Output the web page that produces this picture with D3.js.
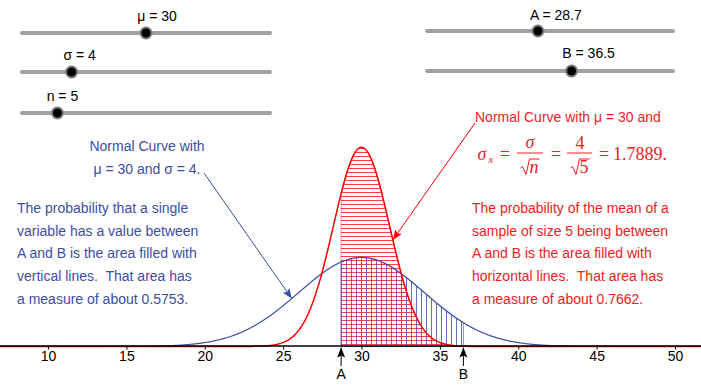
<!DOCTYPE html>
<html>
<head>
<meta charset="utf-8">
<script src="https://d3js.org/d3.v7.min.js"></script>
<style>
  body { margin: 0; background: #fff; }
  text { font-family: "Liberation Sans", Arial, sans-serif; white-space: pre; }
</style>
</head>
<body>
<script>
// parameters (slider names, values, ranges)
var sliderNames = ["μ", "σ", "n", "A", "B"];
var sliderValues = [30, 4, 5, 28.7, 36.5];
var sliderMin = [0, 0, 0, 3, 3];
var sliderMax = [60, 20, 35, 60, 60];

var tickValues = [10, 15, 20, 25, 30, 35, 40, 45, 50];

var blueNote = ["Normal Curve with", "μ = 30 and σ = 4."];
var blueText = ["The probability that a single", "variable has a value between",
                "A and B is the area filled with", "vertical lines.  That area has",
                "a measure of about 0.5753."];
var redNote = "Normal Curve with μ = 30 and";
var redText = ["The probability of the mean of a", "sample of size 5 being between",
               "A and B is the area filled with", "horizontal lines.  That area has",
               "a measure of about 0.7662."];

var mu = sliderValues[0], sigma = sliderValues[1], n = sliderValues[2];
var A = sliderValues[3], B = sliderValues[4];
var sigmaMean = sigma / Math.sqrt(n);

var width = 701, height = 390;
var blue = "#3a4ea8", red = "#ff0000";
var blueTxt = "#3a4ea6", redTxt = "#ee1c25";
var fs = 14;

var svg = d3.select("body").append("svg")
    .attr("width", width).attr("height", height);

var x = d3.scaleLinear().domain([10, 50]).range([48, 675]);
var y = d3.scaleLinear().domain([0, 0.1]).range([346.5, 257.2]);

function pdf(m, s) {
    return function(v) { return Math.exp(-0.5 * Math.pow((v - m) / s, 2)) / (s * Math.sqrt(2 * Math.PI)); };
}
var fBlue = pdf(mu, sigma), fRed = pdf(mu, sigmaMean);

var defs = svg.append("defs");
defs.append("pattern").attr("id", "hh").attr("patternUnits", "userSpaceOnUse")
    .attr("width", 10).attr("height", 4)
  .append("line").attr("x1", 0).attr("x2", 10).attr("y1", 0.5).attr("y2", 0.5)
    .attr("stroke", red).attr("stroke-width", 1).attr("opacity", 0.75);
defs.append("pattern").attr("id", "vh").attr("patternUnits", "userSpaceOnUse")
    .attr("width", 5).attr("height", 10).attr("x", 1)
  .append("line").attr("x1", 0.5).attr("x2", 0.5).attr("y1", 0).attr("y2", 10)
    .attr("stroke", blue).attr("stroke-width", 1).attr("opacity", 0.8);

function marker(id, col) {
    defs.append("marker").attr("id", id).attr("viewBox", "0 0 10 10")
        .attr("refX", 10).attr("refY", 5).attr("markerWidth", 10).attr("markerHeight", 10)
        .attr("markerUnits", "userSpaceOnUse").attr("orient", "auto")
      .append("path").attr("d", "M0,1 L10,5 L0,9 L2,5 Z").attr("fill", col);
}
marker("ab", blue); marker("ar", red); marker("ak", "#000");

// integral regions
var xsAB = d3.range(A, B, 0.02).concat([B]);
var area = function(f) {
    return d3.area().x(function(d) { return x(d); }).y0(y(0)).y1(function(d) { return y(f(d)); });
};
svg.append("path").datum(xsAB).attr("d", area(fRed))
    .attr("fill", "url(#hh)").attr("stroke", red).attr("stroke-opacity", 0.45);
svg.append("path").datum(xsAB).attr("d", area(fBlue))
    .attr("fill", "url(#vh)").attr("stroke", blue).attr("stroke-opacity", 0.6);

// curves
var xsAll = d3.range(x.invert(0), x.invert(width), 0.05);
var line = function(f) {
    return d3.line().x(function(d) { return x(d); }).y(function(d) { return y(f(d)); });
};
svg.append("path").datum(xsAll).attr("d", line(fBlue))
    .attr("fill", "none").attr("stroke", blue).attr("stroke-width", 1.2);
svg.append("path").datum(xsAll).attr("d", line(fRed))
    .attr("fill", "none").attr("stroke", red).attr("stroke-width", 1.5);

// axis
var xAxis = d3.axisBottom(x).tickValues(tickValues).tickSize(3).tickPadding(2);
var gx = svg.append("g").attr("transform", "translate(0," + y(0) + ")").call(xAxis);
gx.select(".domain").remove();
gx.selectAll("text").attr("font-size", fs).attr("fill", "#000")
    .style("font-family", "Liberation Sans, Arial, sans-serif");
svg.append("line").attr("x1", 0).attr("x2", width).attr("y1", y(0) - 0.5).attr("y2", y(0) - 0.5)
    .attr("stroke", "#000").attr("stroke-width", 1.3);

// A and B markers
[["A", A], ["B", B]].forEach(function(p) {
    svg.append("line").attr("x1", x(p[1])).attr("x2", x(p[1]))
        .attr("y1", 366).attr("y2", y(0) + 1)
        .attr("stroke", "#000").attr("stroke-width", 1).attr("marker-end", "url(#ak)");
    svg.append("text").attr("x", x(p[1])).attr("y", 379).attr("text-anchor", "middle")
        .attr("font-size", fs).text(p[0]);
});

// sliders
var sliders = [
    { x0: 22, x1: 270, y: 33, ly: 21, lx: 11 },
    { x0: 22, x1: 270, y: 72, ly: 60, lx: 8 },
    { x0: 22, x1: 270, y: 113, ly: 101, lx: 5 },
    { x0: 427, x1: 673, y: 31, ly: 20, lx: 18 },
    { x0: 427, x1: 673, y: 71, ly: 58, lx: 17 }
];
sliders.forEach(function(s, i) {
    var sx = d3.scaleLinear().domain([sliderMin[i], sliderMax[i]]).range([s.x0, s.x1]);
    svg.append("line").attr("x1", s.x0).attr("x2", s.x1).attr("y1", s.y).attr("y2", s.y)
        .attr("stroke", "#a0a0a0").attr("stroke-width", 4).attr("stroke-linecap", "round");
    svg.append("circle").attr("cx", sx(sliderValues[i])).attr("cy", s.y).attr("r", 5.5)
        .attr("fill", "#000").attr("stroke", "#7a7a7a").attr("stroke-width", 2);
    svg.append("text").attr("x", sx(sliderValues[i]) + s.lx).attr("y", s.ly)
        .attr("text-anchor", "middle").attr("font-size", fs)
        .text(sliderNames[i] + " = " + sliderValues[i]);
});

// blue annotations
blueNote.forEach(function(t, i) {
    svg.append("text").attr("x", 147).attr("y", 151 + i * 23).attr("text-anchor", "middle")
        .attr("font-size", fs).attr("fill", blueTxt).text(t);
});
blueText.forEach(function(t, i) {
    svg.append("text").attr("x", 17).attr("y", 213 + i * 22.7)
        .attr("font-size", fs).attr("fill", blueTxt).text(t);
});
svg.append("line").attr("x1", 204).attr("y1", 173).attr("x2", x(25.55)).attr("y2", y(fBlue(25.55)))
    .attr("stroke", blue).attr("stroke-width", 1).attr("marker-end", "url(#ab)");

// red annotations
svg.append("text").attr("x", 475).attr("y", 122).attr("font-size", fs)
    .attr("fill", redTxt).text(redNote);
redText.forEach(function(t, i) {
    svg.append("text").attr("x", 472).attr("y", 213 + i * 22.7)
        .attr("font-size", fs).attr("fill", redTxt).text(t);
});
svg.append("line").attr("x1", 475).attr("y1", 123).attr("x2", x(32.0)).attr("y2", y(fRed(32.0)))
    .attr("stroke", red).attr("stroke-width", 1).attr("marker-end", "url(#ar)");

// formula sigma_xbar = sigma / sqrt(n) = 4 / sqrt(5) = 1.7889.
var fm = svg.append("g").attr("fill", redTxt);
function ftxt(t, cx, by, size, italic, anchor) {
    fm.append("text").attr("x", cx).attr("y", by).attr("font-size", size)
        .attr("font-style", italic ? "italic" : "normal")
        .attr("text-anchor", anchor || "middle")
        .style("font-family", "Liberation Serif, Times New Roman, serif").text(t);
}
function radical(cx, by, w) {
    var l = cx - w / 2 - 9;
    fm.append("path")
        .attr("d", "M" + l + "," + (by - 5) + " L" + (l + 2) + "," + (by - 6.5) + " L" + (l + 5.5) + "," + (by + 1.5) +
              " L" + (l + 9) + "," + (by - 14) + " L" + (cx + w / 2 + 1) + "," + (by - 14))
        .attr("fill", "none").attr("stroke", redTxt).attr("stroke-width", 1);
}
var base = 160;
ftxt("σ", 482, base, 18, true);
ftxt("x", 491, base + 3, 11, true);
ftxt("=", 505, base, 18, false);
fm.append("line").attr("x1", 517).attr("x2", 543).attr("y1", 153).attr("y2", 153).attr("stroke", redTxt);
ftxt("σ", 530, 148, 18, true);
radical(534, 173, 9); ftxt("n", 534, 173, 18, true);
ftxt("=", 556, base, 18, false);
fm.append("line").attr("x1", 567).attr("x2", 592).attr("y1", 153).attr("y2", 153).attr("stroke", redTxt);
ftxt(String(sigma), 580, 149, 18, false);
radical(584, 173, 9); ftxt(String(n), 584, 173, 18, false);
ftxt("=", 604, base, 18, false);
ftxt(d3.format(".4f")(sigmaMean) + ".", 613, base, 18, false, "start");
</script>
</body>
</html>
